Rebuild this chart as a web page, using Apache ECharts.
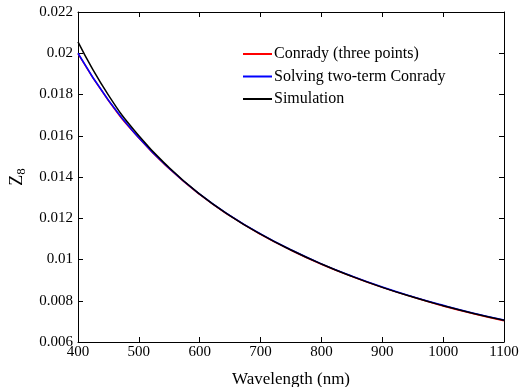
<!DOCTYPE html>
<html>
<head>
<meta charset="utf-8">
<script src="https://cdn.jsdelivr.net/npm/echarts@6/dist/echarts.min.js"></script>
<style>
  html, body { margin: 0; padding: 0; background: #fff; }
  #chart { width: 519px; height: 387px; }
</style>
</head>
<body>
<div id="chart"></div>
<script>
// wavelength samples (nm)
const wavelength = [400, 450, 500, 550, 600, 650, 700, 750, 800, 850, 900, 950, 1000, 1050, 1100];
// Z8 values
const conradyThree = [0.01998, 0.01771, 0.01589, 0.01440, 0.01315, 0.01211, 0.01122, 0.01045, 0.00977, 0.00918, 0.00865, 0.00818, 0.00775, 0.00737, 0.00703];
const twoTermConrady = [0.02000, 0.01772, 0.01590, 0.01441, 0.01317, 0.01213, 0.01124, 0.01047, 0.00979, 0.00920, 0.00867, 0.00820, 0.00778, 0.00740, 0.00707];
const simulation = [0.02055, 0.01797, 0.01600, 0.01445, 0.01317, 0.01212, 0.01123, 0.01046, 0.00978, 0.00918, 0.00865, 0.00818, 0.00776, 0.00738, 0.00705];
const seriesNames = ['Conrady (three points)', 'Solving two-term Conrady', 'Simulation'];

const pairs = (ys) => wavelength.map((x, i) => [x, ys[i]]);
const font = 'Liberation Serif, Times New Roman, serif';

const chart = echarts.init(document.getElementById('chart'));

// shared look for the boxed axes, ticks point inward
const frameAxis = {
  axisLine: { show: true, onZero: false, lineStyle: { color: '#000', width: 1 } },
  axisTick: { show: true, inside: true, length: 5, lineStyle: { color: '#000' } },
  splitLine: { show: false },
};

chart.setOption({
  animation: false,
  textStyle: { fontFamily: font },
  grid: { left: 78, right: 15, top: 12, bottom: 45, outerBoundsMode: 'none', containLabel: false },
  legend: {
    data: seriesNames,
    orient: 'vertical',
    left: 238,
    top: 41,
    icon: 'rect',
    itemWidth: 29,
    itemHeight: 2,
    itemGap: 6.5,
    textStyle: { fontFamily: font, fontSize: 16, color: '#000', padding: [0, 0, 0, -3] },
  },
  xAxis: [
    {
      type: 'value', min: 400, max: 1100, interval: 100, position: 'bottom',
      name: 'Wavelength (nm)', nameLocation: 'middle', nameGap: 29,
      nameTextStyle: { fontFamily: font, fontSize: 17, color: '#000' },
      axisLabel: { fontFamily: font, fontSize: 15, color: '#000', margin: 3, formatter: (v) => String(v) },
      ...frameAxis,
    },
    {
      type: 'value', min: 400, max: 1100, interval: 100, position: 'top',
      axisLabel: { show: false },
      ...frameAxis,
    },
  ],
  yAxis: [
    {
      type: 'value', min: 0.006, max: 0.022, interval: 0.002, position: 'left',
      name: 'Z{sub|8}', nameLocation: 'middle', nameGap: 50, nameRotate: 90,
      nameTextStyle: {
        fontFamily: font, fontSize: 18, color: '#000',
        rich: { sub: { fontFamily: font, fontSize: 13, verticalAlign: 'bottom', padding: [8, 0, 0, 0] } },
      },
      axisLabel: {
        fontFamily: font, fontSize: 15, color: '#000', margin: 5,
        formatter: (v) => String(parseFloat(v.toFixed(3))),
      },
      ...frameAxis,
    },
    {
      type: 'value', min: 0.006, max: 0.022, interval: 0.002, position: 'right',
      axisLabel: { show: false },
      ...frameAxis,
    },
  ],
  series: [
    {
      name: seriesNames[0], type: 'line', data: pairs(conradyThree),
      smooth: true, showSymbol: false, lineStyle: { color: '#ff0000', width: 1.5 }, itemStyle: { color: '#ff0000' },
    },
    {
      name: seriesNames[1], type: 'line', data: pairs(twoTermConrady),
      smooth: true, showSymbol: false, lineStyle: { color: '#0000ff', width: 1.5 }, itemStyle: { color: '#0000ff' },
    },
    {
      name: seriesNames[2], type: 'line', data: pairs(simulation),
      smooth: true, showSymbol: false, lineStyle: { color: '#000000', width: 1.5 }, itemStyle: { color: '#000000' },
    },
  ],
});
</script>
</body>
</html>
